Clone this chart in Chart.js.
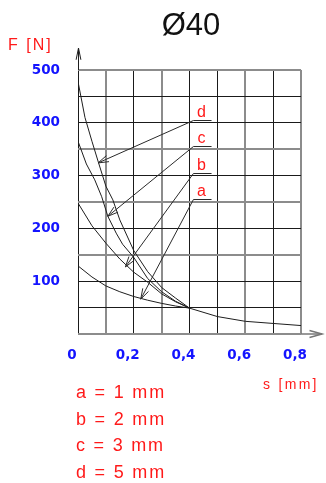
<!DOCTYPE html>
<html>
<head>
<meta charset="utf-8">
<script src="https://cdn.jsdelivr.net/npm/chart.js@4/dist/chart.umd.min.js"></script>
<style>
html,body{margin:0;padding:0;background:#fff;}
canvas{display:block;}
</style>
</head>
<body>
<canvas id="c" width="326" height="483"></canvas>
<script>
// ---- data ----
const sA = [0, 0.05, 0.1, 0.15, 0.2, 0.25, 0.3, 0.35, 0.4, 0.5, 0.6, 0.7, 0.8];
const fA = [129, 108, 91, 80, 71, 64, 58, 53, 49, 33, 24, 20, 16];
const sB = [0, 0.05, 0.1, 0.15, 0.2, 0.25, 0.3, 0.35, 0.4];
const fB = [248, 205, 172, 142, 117, 98, 76, 61, 49];
const sC = [0, 0.03, 0.06, 0.085, 0.107, 0.137, 0.16, 0.2, 0.25, 0.3, 0.35, 0.4];
const fC = [365, 322, 292, 260, 223, 191, 170, 145, 105, 80, 62, 49];
const sD = [0, 0.025, 0.05, 0.075, 0.1, 0.125, 0.15, 0.2, 0.25, 0.3, 0.35, 0.4];
const fD = [478, 410, 365, 322, 280, 254, 216, 158, 118, 88, 68, 49];

const curveNames = ['a', 'b', 'c', 'd'];
const legendLines = ['a = 1 mm', 'b = 2 mm', 'c = 3 mm', 'd = 5 mm'];
// annotation callouts (data units)
const calloutLevelF = [256, 305, 356, 406];
const calloutTipS = [0.225, 0.17, 0.107, 0.072];
const calloutTipF = [66, 127, 223, 324];
const calloutFromS = 0.414;
const calloutToS = 0.479;

const titleText = 'Ø40';
const yTitle = 'F [N]';
const xTitle = 's [mm]';

// ---- styles ----
const RED = '#ff1a1a';
const BLUE = '#1414ff';
const LINE = '#1e1e1e';
const grayX = [1, 3, 6, 8];          // tenths of mm drawn as blurred grid lines
const grayY = [0, 150, 250, 350, 500];

function pts(s, f) { return s.map((v, i) => ({x: v, y: f[i]})); }

const ds = [[sA, fA], [sB, fB], [sC, fC], [sD, fD]].map((p, i) => ({
  label: curveNames[i],
  data: pts(p[0], p[1]),
  showLine: true,
  borderColor: LINE,
  borderWidth: 1,
  pointRadius: 0,
  tension: 0,
  fill: false
}));

function arrowHead(ctx, tx, ty, fx, fy, len, half) {
  const a = Math.atan2(fy - ty, fx - tx);
  ctx.beginPath();
  ctx.moveTo(tx + len * Math.cos(a + half), ty + len * Math.sin(a + half));
  ctx.lineTo(tx, ty);
  ctx.lineTo(tx + len * Math.cos(a - half), ty + len * Math.sin(a - half));
  ctx.stroke();
}

const decor = {
  id: 'decor',
  afterDatasetsDraw(chart) {
    const {ctx, scales: {x, y}} = chart;
    ctx.save();
    ctx.strokeStyle = LINE;
    ctx.lineWidth = 1;
    // axis extensions with arrows
    const ox = Math.round(x.getPixelForValue(0)) + 0.5;
    const oy = Math.round(y.getPixelForValue(0));
    const topY = y.getPixelForValue(500);
    ctx.beginPath(); ctx.moveTo(ox, topY); ctx.lineTo(ox, topY - 22); ctx.stroke();
    arrowHead(ctx, ox, topY - 22, ox, topY, 12, 0.2);
    const rx = x.getPixelForValue(0.8);
    ctx.strokeStyle = '#777';
    ctx.lineWidth = 1.5;
    ctx.beginPath(); ctx.moveTo(rx, oy); ctx.lineTo(rx + 21, oy); ctx.stroke();
    arrowHead(ctx, rx + 21, oy, rx, oy, 13, 0.27);
    // callouts
    ctx.strokeStyle = '#2a2a2a';
    ctx.lineWidth = 1;
    ctx.fillStyle = RED;
    ctx.font = '16px "Liberation Sans", Arial, sans-serif';
    ctx.textAlign = 'center';
    ctx.textBaseline = 'alphabetic';
    calloutLevelF.forEach((lv, i) => {
      const x1 = x.getPixelForValue(calloutFromS);
      const x2 = x.getPixelForValue(calloutToS);
      const ly = Math.round(y.getPixelForValue(lv)) + 0.5;
      const tx = x.getPixelForValue(calloutTipS[i]);
      const ty = y.getPixelForValue(calloutTipF[i]);
      ctx.beginPath(); ctx.moveTo(x1, ly); ctx.lineTo(x2, ly); ctx.stroke();
      ctx.beginPath(); ctx.moveTo(x1, ly); ctx.lineTo(tx, ty); ctx.stroke();
      arrowHead(ctx, tx, ty, x1, ly, 11, 0.3);
      ctx.fillText(curveNames[i], (x1 + x2) / 2 - 1, ly - 4);
    });
    ctx.restore();
  },
  afterDraw(chart) {
    const {ctx} = chart;
    ctx.save();
    ctx.textBaseline = 'alphabetic';
    // title
    ctx.fillStyle = '#111';
    ctx.textAlign = 'center';
    ctx.font = '31px "Liberation Sans", Arial, sans-serif';
    ctx.fillText(titleText, 191, 35);
    ctx.textAlign = 'left';
    ctx.fillStyle = RED;
    // y title
    ctx.font = '16px "Liberation Sans", Arial, sans-serif';
    ctx.letterSpacing = '2px';
    ctx.fillText(yTitle, 8, 50);
    // x title
    ctx.font = '14px "Liberation Sans", Arial, sans-serif';
    ctx.letterSpacing = '2.3px';
    ctx.fillText(xTitle, 263, 389);
    // legend text
    ctx.font = '18px "Liberation Sans", Arial, sans-serif';
    ctx.letterSpacing = '1.8px';
    legendLines.forEach((t, i) => ctx.fillText(t, 76, 398 + i * 26.7));
    ctx.restore();
  }
};

new Chart(document.getElementById('c'), {
  type: 'scatter',
  data: {datasets: ds},
  options: {
    responsive: false,
    devicePixelRatio: 1,
    animation: false,
    layout: {padding: {left: 0, top: 70, right: 22, bottom: 0}},
    plugins: {legend: {display: false}, title: {display: false}, tooltip: {enabled: false}},
    scales: {
      x: {
        type: 'linear', min: 0, max: 0.8,
        afterFit(s) { s.height = 149; },
        border: {display: false},
        grid: {
          drawTicks: false,
          color: c => grayX.includes(Math.round(c.tick.value * 10)) ? '#8c8c8c' : '#1a1a1a',
          lineWidth: c => grayX.includes(Math.round(c.tick.value * 10)) ? 2 : 1
        },
        ticks: {
          stepSize: 0.1, autoSkip: false, maxRotation: 0, padding: 13, labelOffset: -6,
          color: BLUE,
          font: {family: 'DejaVu Sans', weight: 'bold', size: 13.5},
          callback: v => {
            const t = Math.round(v * 10);
            if (t % 2 !== 0) return '';
            return t === 0 ? '0' : (t / 10).toFixed(1).replace('.', ',');
          }
        }
      },
      y: {
        min: 0, max: 500,
        afterFit(s) { s.width = 78; },
        border: {display: false},
        grid: {
          drawTicks: false,
          color: c => grayY.includes(c.tick.value) ? '#8c8c8c' : '#1a1a1a',
          lineWidth: c => grayY.includes(c.tick.value) ? 2 : 1
        },
        ticks: {
          stepSize: 50, autoSkip: false, padding: 18,
          color: BLUE,
          font: {family: 'DejaVu Sans', weight: 'bold', size: 13.5},
          callback: v => (v > 0 && v % 100 === 0) ? String(v) : ''
        }
      }
    }
  },
  plugins: [decor]
});
</script>
</body>
</html>
